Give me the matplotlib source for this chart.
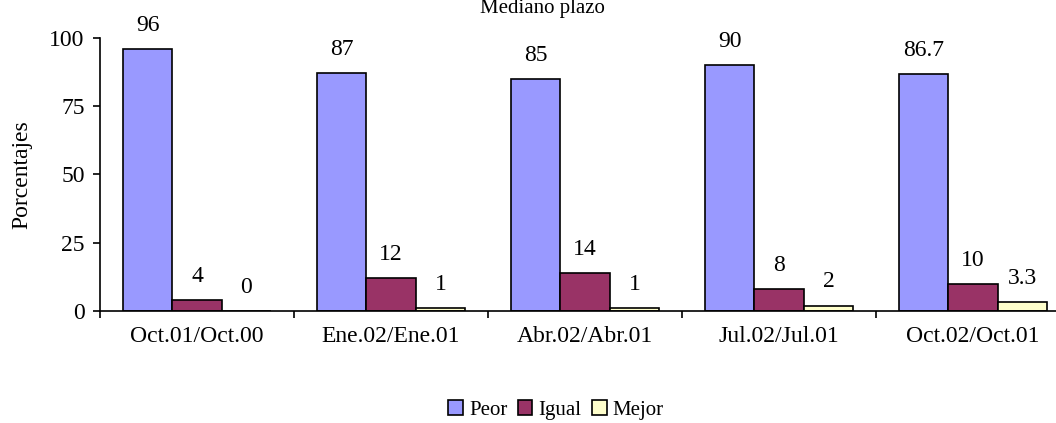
import matplotlib

matplotlib.use("Agg")
import matplotlib.pyplot as plt
import numpy as np

categories = ["Oct.01/Oct.00", "Ene.02/Ene.01", "Abr.02/Abr.01", "Jul.02/Jul.01", "Oct.02/Oct.01"]
peor = [96, 87, 85, 90, 86.7]
igual = [4, 12, 14, 8, 10]
mejor = [0, 1, 1, 2, 3.3]
series = [("Peor", peor, "#9999FF"), ("Igual", igual, "#993366"), ("Mejor", mejor, "#FFFFCC")]
yticks = [0, 25, 50, 75, 100]

plt.rcParams["font.family"] = ["Liberation Serif", "DejaVu Serif"]
plt.rcParams["font.size"] = 17

fig = plt.figure(figsize=(10.56, 4.23), dpi=100)
ax = fig.add_axes([100 / 1056, 112 / 423, 970 / 1056, 273 / 423])

x = np.arange(len(categories))
bw = 0.255
for i, (name, vals, color) in enumerate(series):
    pos = x + (i - 1) * bw
    ax.bar(pos, vals, width=bw, color=color, edgecolor="black", linewidth=1.2, label=name)
    for px, v in zip(pos, vals):
        ax.annotate(f"{v:g}", (px, v), xytext=(0, 13), textcoords="offset points",
                    ha="center", va="baseline", fontsize=17)

ax.set_xlim(-0.5, len(categories) - 0.5)
ax.set_ylim(0, 100)
ax.set_yticks(yticks)
ax.spines["top"].set_visible(False)
ax.spines["right"].set_visible(False)
for s in ("left", "bottom"):
    ax.spines[s].set_linewidth(1.2)

# ticks on category boundaries, labels at centers
ax.set_xticks(np.arange(len(categories) + 1) - 0.5)
ax.set_xticklabels([])
ax.set_xticks(x, minor=True)
ax.set_xticklabels(categories, minor=True)
ax.tick_params(axis="x", which="major", direction="out", length=5, width=1.2)
ax.tick_params(axis="x", which="minor", length=0, pad=11)
ax.tick_params(axis="y", direction="out", length=5, width=1.2, pad=6)

ax.set_ylabel("Porcentajes", labelpad=12)
fig.text(542 / 1056, 1 - 9 / 423, "Mediano plazo", ha="center", va="center", fontsize=15)

ax.legend(loc="center", bbox_to_anchor=(556 / 1056, 1 - 410 / 423), bbox_transform=fig.transFigure,
          ncol=3, frameon=False, handlelength=0.7, handleheight=0.7, handletextpad=0.3,
          columnspacing=0.5, fontsize=15)

fig.savefig("out.png", dpi=100)
plt.close(fig)
